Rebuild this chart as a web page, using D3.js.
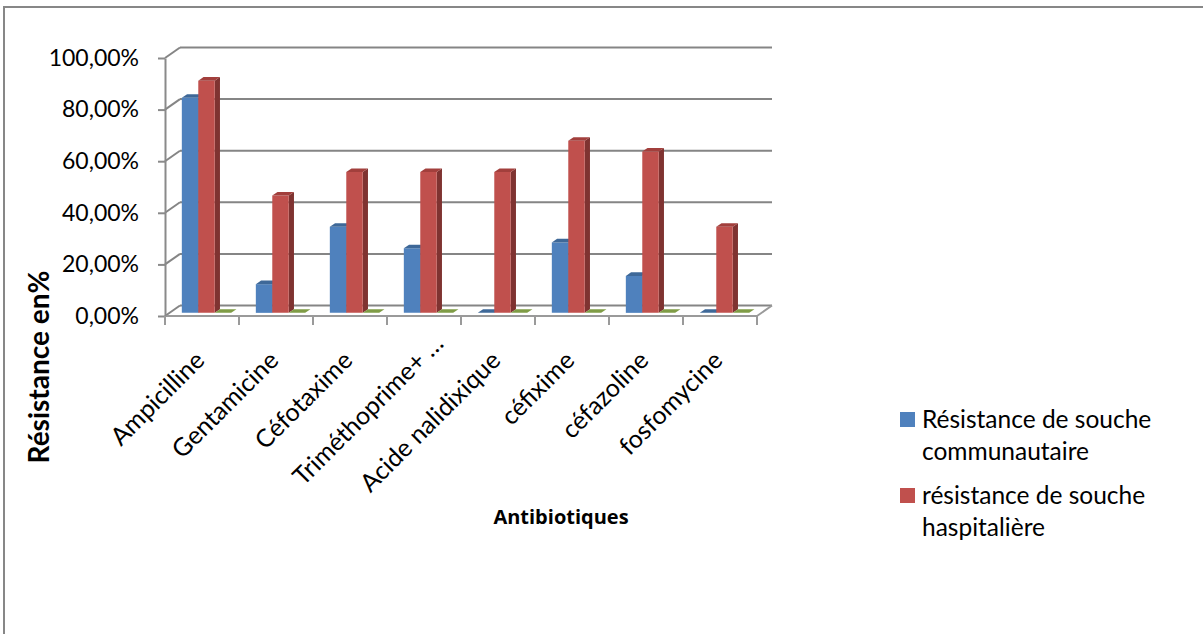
<!DOCTYPE html>
<html lang="fr">
<head>
<meta charset="utf-8">
<script src="https://cdn.jsdelivr.net/npm/d3@7"></script>
<style>
  html, body { margin: 0; padding: 0; background: #fff; }
  svg { display: block; }
</style>
</head>
<body>
<svg id="chart" width="1203" height="634"></svg>
<script>
// Antibiotic resistance by strain origin (3D clustered columns)
const categories = ["Ampicilline", "Gentamicine", "Céfotaxime", "Triméthoprime+ …",
  "Acide nalidixique", "céfixime", "céfazoline", "fosfomycine"];
const communautaire = [83.33, 11.11, 33.33, 25.0, 0, 27.27, 14.29, 0];
const hospitaliere = [90.0, 45.45, 54.55, 54.55, 54.55, 66.67, 62.5, 33.33];
const serie3 = [0, 0, 0, 0, 0, 0, 0, 0];
const legendLines = [["Résistance de souche", "communautaire"], ["résistance de souche", "haspitalière"]];
const yTicks = [0, 20, 40, 60, 80, 100];
const yTitle = "Résistance en%";
const xTitle = "Antibiotiques";

const series = [
  { values: communautaire, front: "#4F81BD", top: "#3E6898", side: "#385D8A" },
  { values: hospitaliere, front: "#C0504D", top: "#A23F3C", side: "#7F3331" },
  { values: serie3, front: "#9BBB59", top: "#7F9C46", side: "#71893F" }
];

const svg = d3.select("#chart");
const FONT = "Lato, 'Open Sans', sans-serif";

// chart frame
svg.append("path")
  .attr("d", "M4,634 V7 H1203")
  .attr("fill", "none").attr("stroke", "#878787").attr("stroke-width", 2);

// front-plane scales
const x = d3.scaleBand().domain(categories).range([165, 757]).paddingInner(0).paddingOuter(0);
const y = d3.scaleLinear().domain([0, 100]).range([316, 58]);
const depth = { dx: 15, dy: 10.5 };
// oblique projection: z = 0 front edge, z = 1 back wall
const P = (xf, v, z) => [xf + z * depth.dx, y(v) - z * depth.dy];
const poly = pts => "M" + pts.map(p => p[0].toFixed(2) + "," + p[1].toFixed(2)).join("L") + "Z";

const grid = svg.append("g").attr("stroke", "#858585").attr("stroke-width", 2).attr("fill", "none");
const [x0, x1] = x.range();
yTicks.forEach(v => {
  const a = P(x0, v, 1), b = P(x1, v, 1), c = P(x0, v, 0);
  grid.append("line").attr("x1", a[0]).attr("y1", a[1]).attr("x2", b[0]).attr("y2", b[1]);
  grid.append("line").attr("x1", c[0]).attr("y1", c[1]).attr("x2", a[0]).attr("y2", a[1]);
});

// floor edges
const floorFront = [P(x0, 0, 0), P(x1, 0, 0)];
const floorRight = [P(x1, 0, 0), P(x1, 0, 1)];
[floorFront, floorRight].forEach(s => {
  grid.append("line").attr("x1", s[0][0]).attr("y1", s[0][1]).attr("x2", s[1][0]).attr("y2", s[1][1])
    .attr("stroke", "#9a9a9a");
});

// bars
const bw = x.step() / 4.5;          // gap width 150 %
const z0 = 0.3, z1 = 0.65;
const bars = svg.append("g");
categories.forEach((cat, i) => {
  series.forEach((s, k) => {
    const v = s.values[i];
    const a = x(cat) + bw * 0.75 + k * bw, b = a + bw;
    const g = bars.append("g");
    if (v > 0) {
      g.append("path").attr("fill", s.side)
        .attr("d", poly([P(b, 0, z0), P(b, v, z0), P(b, v, z1), P(b, 0, z1)]));
      g.append("path").attr("fill", s.front)
        .attr("d", poly([P(a, 0, z0), P(b, 0, z0), P(b, v, z0), P(a, v, z0)]));
    }
    g.append("path").attr("fill", s.top)
      .attr("d", poly([P(a, v, z0), P(b, v, z0), P(b, v, z1), P(a, v, z1)]));
  });
});

// vertical axis (front plane)
const fr = d3.formatLocale({ decimal: ",", thousands: " ", grouping: [3], currency: ["", " €"] });
const fmt = fr.format(".2f");
const yAxis = d3.axisLeft(y).tickValues(yTicks).tickSize(7).tickSizeOuter(0).tickPadding(19)
  .tickFormat(d => fmt(d) + "%");
const ya = svg.append("g").attr("transform", `translate(${x0},0)`).call(yAxis);
ya.select(".domain").attr("stroke", "#8a8a8a").attr("stroke-width", 2);
ya.selectAll(".tick line").attr("stroke", "#8a8a8a").attr("stroke-width", 2);
ya.selectAll(".tick text").attr("font-family", FONT).attr("font-size", 23).attr("fill", "#000");

// category ticks on the front floor edge
const bounds = categories.map(c => x(c)).concat([x1]);
svg.append("g").selectAll("line").data(bounds).join("line")
  .attr("x1", d => d).attr("x2", d => d)
  .attr("y1", y(0)).attr("y2", y(0) + 9)
  .attr("stroke", "#9a9a9a").attr("stroke-width", 2);

// rotated category labels; a truncated label runs to the full label length
svg.append("g").selectAll("text").data(categories).join("text")
  .attr("transform", d => `translate(${x(d) + x.bandwidth() / 2 + 4},362) rotate(-45)`)
  .attr("dx", d => d.endsWith("…") ? 24 : 0)
  .attr("text-anchor", "end")
  .attr("font-family", FONT).attr("font-size", 25).attr("fill", "#000")
  .text(d => d);

// axis titles
svg.append("text")
  .attr("transform", "translate(49,367) rotate(-90)")
  .attr("text-anchor", "middle")
  .attr("font-family", FONT).attr("font-weight", "bold").attr("font-size", 28).attr("fill", "#000")
  .text(yTitle);
svg.append("text")
  .attr("x", 561).attr("y", 524)
  .attr("text-anchor", "middle")
  .attr("font-family", "'Open Sans', sans-serif").attr("font-weight", "bold").attr("font-size", 20).attr("fill", "#000")
  .text(xTitle);

// legend
const legend = svg.append("g").attr("transform", "translate(900,412)");
legendLines.forEach((lines, k) => {
  const g = legend.append("g").attr("transform", `translate(0,${k * 76})`);
  g.append("rect").attr("width", 15).attr("height", 15).attr("fill", series[k].front);
  lines.forEach((t, j) => {
    g.append("text").attr("x", 22).attr("y", 16 + j * 32)
      .attr("font-family", FONT).attr("font-size", 24.5).attr("fill", "#000").text(t);
  });
});
</script>
</body>
</html>
